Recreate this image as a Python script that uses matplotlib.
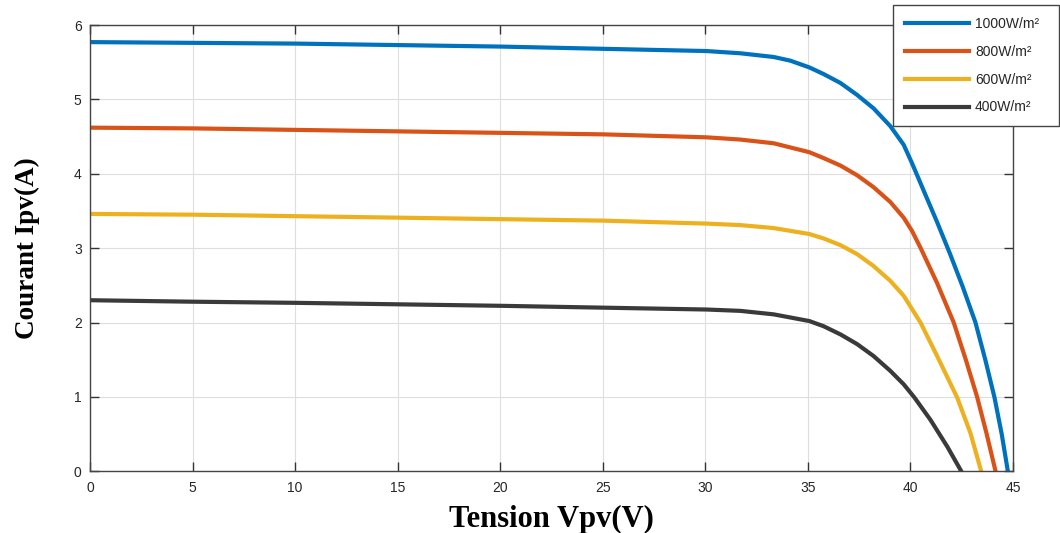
import matplotlib
matplotlib.use("Agg")
import matplotlib.pyplot as plt

# ---- data ----
v_1000 = [0, 5, 10, 15, 20, 25, 30.05, 31.7, 33.33, 34.15, 35.07, 35.77, 36.59, 37.4, 38.2,
          39.02, 39.67, 40.08, 40.65, 41.3, 41.92, 42.55, 43.17, 43.65, 44.1, 44.45, 44.75]
i_1000 = [5.77, 5.76, 5.75, 5.73, 5.71, 5.68, 5.65, 5.62, 5.57, 5.52, 5.43, 5.34, 5.22, 5.06, 4.88,
          4.64, 4.39, 4.14, 3.77, 3.35, 2.93, 2.48, 2.0, 1.5, 0.99, 0.5, 0.0]

v_800 = [0, 5, 10, 15, 20, 25, 30.05, 31.7, 33.33, 35.07, 35.77, 36.59, 37.4, 38.2, 39.02,
         39.67, 40.08, 40.5, 41.3, 42.11, 42.7, 43.25, 43.7, 44.15]
i_800 = [4.62, 4.61, 4.59, 4.57, 4.55, 4.53, 4.49, 4.46, 4.41, 4.29, 4.21, 4.11, 3.98, 3.82, 3.62,
         3.41, 3.23, 3.0, 2.53, 2.0, 1.5, 1.0, 0.52, 0.0]

v_600 = [0, 5, 10, 15, 20, 25, 30.05, 31.7, 33.33, 35.07, 35.77, 36.59, 37.4, 38.2, 39.02,
         39.67, 40.08, 40.49, 41.3, 42.28, 42.93, 43.45]
i_600 = [3.46, 3.45, 3.43, 3.41, 3.39, 3.37, 3.33, 3.31, 3.27, 3.19, 3.13, 3.04, 2.92, 2.76, 2.56,
         2.36, 2.18, 2.0, 1.55, 0.99, 0.51, 0.0]

v_400 = [0, 5, 10, 15, 20, 25, 30.05, 31.7, 33.33, 35.07, 35.77, 36.59, 37.4, 38.2, 39.02,
         39.67, 40.2, 40.98, 41.8, 42.48]
i_400 = [2.30, 2.28, 2.265, 2.245, 2.225, 2.20, 2.175, 2.157, 2.11, 2.02, 1.95, 1.84, 1.71, 1.55, 1.35,
         1.17, 0.99, 0.69, 0.33, 0.0]

labels = ["1000W/m²", "800W/m²", "600W/m²", "400W/m²"]
colors = ["#0072BD", "#D95319", "#EDB120", "#3a3a3a"]

x_ticks = [0, 5, 10, 15, 20, 25, 30, 35, 40, 45]
y_ticks = [0, 1, 2, 3, 4, 5, 6]

fig = plt.figure(figsize=(10.6, 5.33), dpi=100)
ax = fig.add_axes([90/1060, 1 - 471.3/533, (1013-90)/1060, (471.3-25)/533])

series = [(v_1000, i_1000), (v_800, i_800), (v_600, i_600), (v_400, i_400)]
for (v, i), lab, c in zip(series, labels, colors):
    ax.plot(v, i, color=c, lw=3.0, label=lab, solid_joinstyle="round")

ax.set_xlim(0, 45)
ax.set_ylim(0, 6)
ax.set_xticks(x_ticks)
ax.set_yticks(y_ticks)
ax.grid(True, color="#dedede", lw=0.8)
ax.set_axisbelow(True)
ax.tick_params(direction="in", length=6.5, width=1.0, color="#333333",
               top=True, right=True, labelsize=10, labelcolor="#262626")
ax.tick_params(axis="x", pad=7)
ax.tick_params(axis="y", pad=6)
for lab in ax.get_xticklabels() + ax.get_yticklabels():
    lab.set_fontfamily("Liberation Sans")
for s in ax.spines.values():
    s.set_color("#444444")
    s.set_linewidth(1.0)

ax.set_xlabel("Tension Vpv(V)", fontfamily="Liberation Serif", fontweight="bold",
              fontsize=22, labelpad=7)
ax.set_ylabel("Courant Ipv(A)", fontfamily="Liberation Serif", fontweight="bold",
              fontsize=19.5, labelpad=24)

leg_x0, leg_y1, leg_w, leg_h = 893/1060, 1 - 5/533, 166/1060, 122/533
leg = fig.legend(loc="upper left",
                 bbox_to_anchor=(leg_x0, leg_y1 - leg_h, leg_w, leg_h), mode="expand",
                 prop={"family": "Liberation Sans", "size": 10},
                 handlelength=4.6, handletextpad=0.45, labelspacing=1.0,
                 borderpad=0.85, borderaxespad=0, fancybox=False, framealpha=1)
leg.get_frame().set_edgecolor("#444444")
leg.get_frame().set_linewidth(1.0)
for t in leg.get_texts():
    t.set_color("#262626")

fig.savefig("out.png", dpi=100)
